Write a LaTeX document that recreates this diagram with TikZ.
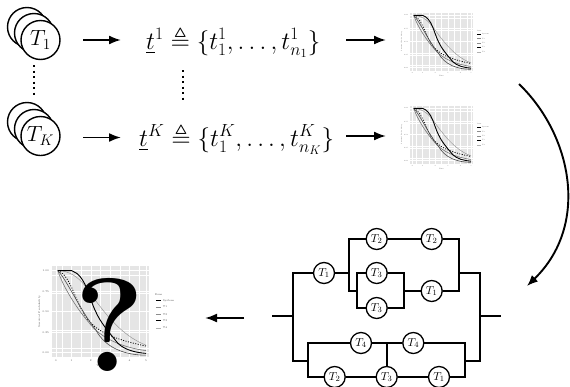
\RequirePackage{fix-cm}
\documentclass[tikz,border=0pt]{standalone}
\usepackage{amssymb}
\usetikzlibrary{arrows.meta}
\tikzset{
 wire/.style={line width=1.7pt},
 comp/.style={circle,draw,line width=1.3pt,fill=white,minimum size=21pt,inner sep=0pt,font=\fontsize{11.5}{11.5}\selectfont},
 stack/.style={circle,draw,line width=1.4pt,fill=white,minimum size=39pt,inner sep=0pt,font=\fontsize{22}{22}\selectfont},
 flow/.style={line width=1.9pt,-{Latex[length=12pt,width=9pt]}},
 vdots/.style={line width=1.6pt,dash pattern=on 2pt off 3.5pt},
 mathlbl/.style={inner sep=0pt,font=\fontsize{25}{25}\selectfont},
 tinylbl/.style={inner sep=0pt,text=black!70},
}
% #1 panel left, #2 panel top, #3 panel width, #4 panel height, #5 font size
\newcommand{\survplot}[5]{%
\begin{scope}[shift={(#1,#2)},x=#3pt,y=-#4pt]
 \fill[black!10] (0,0) rectangle (1,1);
 \foreach \v in {0.1,0.3,0.5,0.7,0.9}{\draw[white,line width=0.2pt] (\v,0)--(\v,1);\draw[white,line width=0.2pt] (0,\v)--(1,\v);}
 \foreach \v in {0.04,0.2,0.4,0.6,0.8,0.97}{\draw[white,line width=0.6pt] (\v,0)--(\v,1);}
 \foreach \v in {0.05,0.28,0.5,0.73,0.95}{\draw[white,line width=0.6pt] (0,\v)--(1,\v);}
 % T4 light
 \draw[black!40,line width=0.5pt] (0.06,0.05) .. controls (0.3,0.06) and (0.38,0.3) .. (0.5,0.45) .. controls (0.65,0.66) and (0.8,0.8) .. (0.97,0.87);
 % T1 grey
 \draw[black!55,line width=0.6pt] (0.06,0.05) .. controls (0.12,0.25) and (0.28,0.5) .. (0.38,0.62) .. controls (0.5,0.8) and (0.75,0.9) .. (0.97,0.93);
 % T2 dotted
 \draw[black,line width=0.8pt,dash pattern=on 1pt off 1.5pt] (0.06,0.05) .. controls (0.2,0.1) and (0.25,0.45) .. (0.38,0.6) .. controls (0.5,0.76) and (0.75,0.83) .. (0.97,0.88);
 % T3 fine
 \draw[black!70,line width=0.6pt] (0.06,0.05) .. controls (0.15,0.15) and (0.3,0.5) .. (0.45,0.7) .. controls (0.55,0.9) and (0.75,0.98) .. (0.97,0.98);
 % System
 \draw[black,line width=0.9pt] (0.06,0.05) -- (0.2,0.05) .. controls (0.35,0.1) and (0.38,0.35) .. (0.45,0.5) .. controls (0.5,0.62) and (0.58,0.72) .. (0.68,0.85) .. controls (0.75,0.92) and (0.85,0.95) .. (0.97,0.96);
\end{scope}
\begin{scope}[shift={(#1,#2)},x=#3pt,y=-#4pt,every node/.append style={tinylbl,font=\fontsize{#5}{#5}\selectfont}]
 \foreach \v/\t in {0.05/1.00,0.28/0.75,0.5/0.50,0.73/0.25,0.95/0.00}{\node[anchor=east] at (-0.03,\v) {\t};}
 \foreach \v/\t in {0.04/0,0.2/1,0.4/2,0.6/3,0.8/4,0.97/5}{\node at (\v,1.04) {\t};}
 \node at (0.5,1.09) {Time};
 \node[rotate=90] at (-0.13,0.5) {Survival Probability};
 \node[anchor=west] at (1.06,0.31) {Item};
 \foreach \v/\t/\c in {0.38/System/black,0.45/T1/black!45,0.53/T2/black!45,0.6/T3/black,0.68/T4/black!30}{
  \draw[\c,line width=0.6pt] (1.07,\v) -- (1.12,\v);
  \node[anchor=west] at (1.14,\v) {\t};}
\end{scope}}
\begin{document}
\begin{tikzpicture}[x=1pt,y=-1pt]
\useasboundingbox (0,0) rectangle (570,386);
% top-left stacks
\node[stack] (a1) at (27,27) {};
\node[stack] (a2) at (34,33) {};
\node[stack] (a3) at (40.5,40) {$T_1$};
\node[stack] (b1) at (27,122) {};
\node[stack] (b2) at (34,129) {};
\node[stack] (b3) at (40.5,136) {$T_K$};
\draw[vdots] (34,65) -- (34,96);
% expressions
\node[mathlbl,anchor=base west] (e1) at (146,49) {$\underline{t}^{1}\triangleq\{t_1^1,\ldots,t_{n_1}^1\}$};
\node[mathlbl,anchor=base west] (e2) at (139,146) {$\underline{t}^{K}\triangleq\{t_1^K,\ldots,t_{n_K}^K\}$};
\draw[vdots] (183,70) -- (183,101);
\draw[flow] (83,40) -- (121,40);
\draw[flow] (83,137.5) -- (121,137.5);
\draw[flow] (346,40) -- (386,40);
\draw[flow] (346,136) -- (386,136);
% small plots
\survplot{410}{12.5}{63}{58}{1.6}
\survplot{410}{105.5}{63}{58}{1.6}
% curved arrow
\coordinate (cs) at (519,84);
\coordinate (ce) at (527,286);
\draw[line width=1.9pt,-{Latex[length=11pt,width=9pt]}] (cs) .. controls (572,135) and (590,225) .. (ce);
% big plot
\survplot{52}{266}{97}{91}{2.6}
\node[inner sep=0pt,font=\fontsize{133}{133}\selectfont\bfseries] (q) at (110,325) {?};
% left arrow
\draw[flow] (244,318) -- (205,318);
% network
\node[comp] (t1a) at (324,273) {$T_1$};
\node[comp] (t2a) at (376.7,239) {$T_2$};
\node[comp] (t2b) at (431.7,239) {$T_2$};
\node[comp] (t3a) at (376.7,273) {$T_3$};
\node[comp] (t3b) at (376.7,308) {$T_3$};
\node[comp] (t1b) at (431.7,291) {$T_1$};
\node[comp] (t4a) at (361,343) {$T_4$};
\node[comp] (t4b) at (413.3,343) {$T_4$};
\node[comp] (t2c) at (334.7,377) {$T_2$};
\node[comp] (t3c) at (386.7,377) {$T_3$};
\node[comp] (t1c) at (439,377) {$T_1$};
\coordinate (L0) at (272,316);
\coordinate (L) at (293.3,316);
\coordinate (R) at (480,316);
\coordinate (R0) at (501,316);
\begin{scope}[wire,line join=miter]
\draw (L0) -- (L);
\draw (R) -- (R0);
\draw (t1a.west) -- (293.3,273) -- (L) -- (293.3,361) -- (308.3,361);
\draw (t1a.east) -- (349.3,273);
\draw (357.3,291) -- (349.3,291) -- (349.3,239) -- (t2a.west);
\draw (t2a.east) -- (t2b.west);
\draw (t2b.east) -- (458.7,239) -- (458.7,291) -- (t1b.east);
\draw (t3a.west) -- (357.3,273) -- (357.3,308) -- (t3b.west);
\draw (t3a.east) -- (403.7,273) -- (403.7,308) -- (t3b.east);
\draw (403.7,291) -- (t1b.west);
\draw (458.7,273) -- (480,273) -- (R) -- (480,361) -- (464.7,361);
\draw (t4b.east) -- (464.7,343) -- (464.7,377) -- (t1c.east);
\draw (t4a.west) -- (308.3,343) -- (308.3,377) -- (t2c.west);
\draw (t4a.east) -- (t4b.west);
\draw (t2c.east) -- (t3c.west);
\draw (t3c.east) -- (t1c.west);
\draw (386.7,343) -- (t3c.north);
\end{scope}
\end{tikzpicture}
\end{document}
